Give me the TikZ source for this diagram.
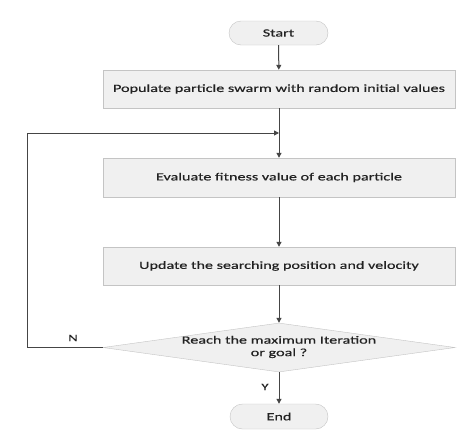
\documentclass[tikz,border=0pt]{standalone}
\usepackage{fontspec}
\setmainfont[FakeStretch=1.47,FakeBold=0.5]{Carlito}
\usetikzlibrary{shapes.geometric,shapes.misc,arrows.meta}
\definecolor{boxfill}{HTML}{F0F0F0}
\definecolor{boxdraw}{HTML}{C4C4C4}
\definecolor{linecol}{HTML}{454545}
\definecolor{txt}{HTML}{222222}
\begin{document}
\begin{tikzpicture}[x=1pt,y=-1pt,
  font=\fontsize{11}{12.5}\selectfont, text=txt,
  procbox/.style={rectangle, draw=boxdraw, fill=boxfill, minimum width=352pt, inner sep=0pt},
  termbox/.style={rounded rectangle, draw=boxdraw, fill=boxfill, inner sep=0pt},
  decbox/.style={diamond, draw=boxdraw, fill=boxfill, inner sep=0pt, minimum width=352pt, minimum height=49pt},
  flow/.style={draw=linecol, line width=1pt, -{Triangle[length=5pt,width=5pt]}}
]
\useasboundingbox (0,0) rectangle (474,442);
\fill[white] (0,0) rectangle (474,442);
\node[termbox, minimum width=99pt, minimum height=24pt] (start) at (278.5,33) {Start};
\node[procbox, minimum height=38pt] (pop) at (279,89) {Populate particle swarm with random initial values};
\node[procbox, minimum height=39pt] (eval) at (279,177.5) {Evaluate fitness value of each particle};
\node[procbox, minimum height=38pt] (upd) at (279,266) {Update the searching position and velocity};
\node[decbox] (dec) at (279,347.5) {};
\node[align=center, inner sep=0pt] (dtext) at (279,347) {Reach the maximum Iteration\\or goal ?};
\node[termbox, minimum width=98pt, minimum height=25pt] (end) at (279,416.5) {End};
\coordinate (lc1) at (27,347.5);
\coordinate (lc2) at (27,133);
\coordinate (lend) at (279,133);
\draw[flow] (start) -- (pop);
\draw[flow] (pop) -- (eval);
\draw[flow] (eval) -- (upd);
\draw[flow] (upd) -- (dec);
\draw[flow] (dec) -- (end);
\draw[flow] (dec.west) -- (lc1) -- (lc2) -- (lend);
\node[inner sep=0pt, font=\fontsize{10}{11}\selectfont] (nlab) at (73,338) {N};
\node[inner sep=0pt, font=\fontsize{10}{11}\selectfont] (ylab) at (265,387) {Y};
\end{tikzpicture}
\end{document}
